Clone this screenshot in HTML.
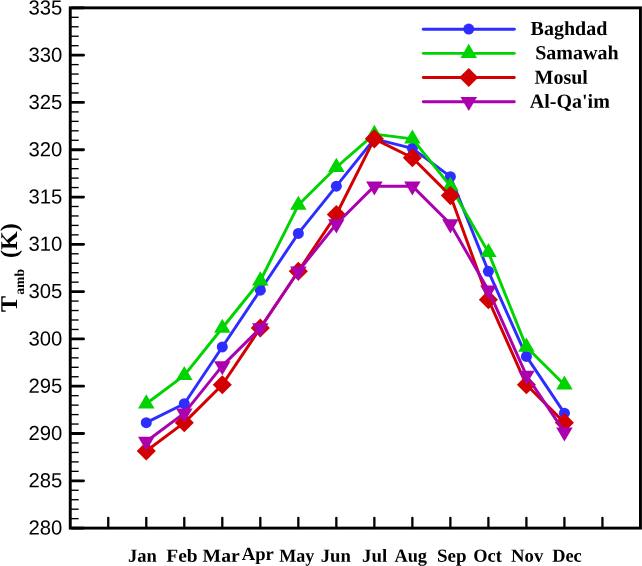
<!DOCTYPE html>
<html><head><meta charset="utf-8"><title>Chart</title>
<style>html,body{margin:0;padding:0;background:#fff;}body{width:642px;height:566px;overflow:hidden;font-family:"Liberation Sans",sans-serif;}svg{display:block;will-change:transform;}text{text-rendering:geometricPrecision;}</style>
</head><body>
<svg width="642" height="566" viewBox="0 0 642 566">
<rect width="642" height="566" fill="#fff"/>
<polyline points="146.28,422.63 184.29,403.71 222.30,346.96 260.32,290.20 298.33,233.45 336.34,186.15 374.36,138.86 412.37,148.32 450.38,176.69 488.40,271.29 526.41,356.42 564.42,413.17" fill="none" stroke="#2d2dff" stroke-width="2.95" stroke-linejoin="round"/>
<circle cx="146.28" cy="422.63" r="5.5" fill="#2d2dff"/>
<circle cx="184.29" cy="403.71" r="5.5" fill="#2d2dff"/>
<circle cx="222.30" cy="346.96" r="5.5" fill="#2d2dff"/>
<circle cx="260.32" cy="290.20" r="5.5" fill="#2d2dff"/>
<circle cx="298.33" cy="233.45" r="5.5" fill="#2d2dff"/>
<circle cx="336.34" cy="186.15" r="5.5" fill="#2d2dff"/>
<circle cx="374.36" cy="138.86" r="5.5" fill="#2d2dff"/>
<circle cx="412.37" cy="148.32" r="5.5" fill="#2d2dff"/>
<circle cx="450.38" cy="176.69" r="5.5" fill="#2d2dff"/>
<circle cx="488.40" cy="271.29" r="5.5" fill="#2d2dff"/>
<circle cx="526.41" cy="356.42" r="5.5" fill="#2d2dff"/>
<circle cx="564.42" cy="413.17" r="5.5" fill="#2d2dff"/>
<polyline points="146.28,403.71 184.29,375.34 222.30,328.04 260.32,280.74 298.33,205.07 336.34,167.24 374.36,134.13 412.37,138.86 450.38,186.15 488.40,252.37 526.41,346.96 564.42,384.79" fill="none" stroke="#00d400" stroke-width="2.95" stroke-linejoin="round"/>
<path d="M146.28 394.31L154.53 408.41L138.03 408.41Z" fill="#00d400"/>
<path d="M184.29 365.94L192.54 380.04L176.04 380.04Z" fill="#00d400"/>
<path d="M222.30 318.64L230.55 332.74L214.05 332.74Z" fill="#00d400"/>
<path d="M260.32 271.34L268.57 285.44L252.07 285.44Z" fill="#00d400"/>
<path d="M298.33 195.67L306.58 209.77L290.08 209.77Z" fill="#00d400"/>
<path d="M336.34 157.84L344.59 171.94L328.09 171.94Z" fill="#00d400"/>
<path d="M374.36 124.73L382.61 138.83L366.11 138.83Z" fill="#00d400"/>
<path d="M412.37 129.46L420.62 143.56L404.12 143.56Z" fill="#00d400"/>
<path d="M450.38 176.75L458.63 190.85L442.13 190.85Z" fill="#00d400"/>
<path d="M488.40 242.97L496.65 257.07L480.15 257.07Z" fill="#00d400"/>
<path d="M526.41 337.56L534.66 351.66L518.16 351.66Z" fill="#00d400"/>
<path d="M564.42 375.39L572.67 389.49L556.17 389.49Z" fill="#00d400"/>
<polyline points="146.28,451.01 184.29,422.63 222.30,384.79 260.32,328.04 298.33,271.29 336.34,214.53 374.36,138.86 412.37,157.78 450.38,195.61 488.40,299.66 526.41,384.79 564.42,422.63" fill="none" stroke="#d20000" stroke-width="2.95" stroke-linejoin="round"/>
<path d="M146.28 441.46L155.83 451.01L146.28 460.56L136.73 451.01Z" fill="#d20000"/>
<path d="M184.29 413.08L193.84 422.63L184.29 432.18L174.74 422.63Z" fill="#d20000"/>
<path d="M222.30 375.24L231.85 384.79L222.30 394.34L212.75 384.79Z" fill="#d20000"/>
<path d="M260.32 318.49L269.87 328.04L260.32 337.59L250.77 328.04Z" fill="#d20000"/>
<path d="M298.33 261.74L307.88 271.29L298.33 280.84L288.78 271.29Z" fill="#d20000"/>
<path d="M336.34 204.98L345.89 214.53L336.34 224.08L326.79 214.53Z" fill="#d20000"/>
<path d="M374.36 129.31L383.91 138.86L374.36 148.41L364.81 138.86Z" fill="#d20000"/>
<path d="M412.37 148.23L421.92 157.78L412.37 167.33L402.82 157.78Z" fill="#d20000"/>
<path d="M450.38 186.06L459.93 195.61L450.38 205.16L440.83 195.61Z" fill="#d20000"/>
<path d="M488.40 290.11L497.95 299.66L488.40 309.21L478.85 299.66Z" fill="#d20000"/>
<path d="M526.41 375.24L535.96 384.79L526.41 394.34L516.86 384.79Z" fill="#d20000"/>
<path d="M564.42 413.08L573.97 422.63L564.42 432.18L554.87 422.63Z" fill="#d20000"/>
<polyline points="146.28,441.55 184.29,413.17 222.30,365.88 260.32,328.04 298.33,271.29 336.34,223.99 374.36,186.15 412.37,186.15 450.38,223.99 488.40,290.20 526.41,375.34 564.42,432.09" fill="none" stroke="#aa00ae" stroke-width="2.95" stroke-linejoin="round"/>
<path d="M146.28 450.95L154.53 436.85L138.03 436.85Z" fill="#aa00ae"/>
<path d="M184.29 422.57L192.54 408.47L176.04 408.47Z" fill="#aa00ae"/>
<path d="M222.30 375.28L230.55 361.18L214.05 361.18Z" fill="#aa00ae"/>
<path d="M260.32 337.44L268.57 323.34L252.07 323.34Z" fill="#aa00ae"/>
<path d="M298.33 280.69L306.58 266.59L290.08 266.59Z" fill="#aa00ae"/>
<path d="M336.34 233.39L344.59 219.29L328.09 219.29Z" fill="#aa00ae"/>
<path d="M374.36 195.55L382.61 181.45L366.11 181.45Z" fill="#aa00ae"/>
<path d="M412.37 195.55L420.62 181.45L404.12 181.45Z" fill="#aa00ae"/>
<path d="M450.38 233.39L458.63 219.29L442.13 219.29Z" fill="#aa00ae"/>
<path d="M488.40 299.60L496.65 285.50L480.15 285.50Z" fill="#aa00ae"/>
<path d="M526.41 384.74L534.66 370.64L518.16 370.64Z" fill="#aa00ae"/>
<path d="M564.42 441.49L572.67 427.39L556.17 427.39Z" fill="#aa00ae"/>
<rect x="70.25" y="7.85" width="570.20" height="520.25" fill="none" stroke="#000" stroke-width="2.9"/>
<line x1="71.75" y1="528.10" x2="83.55" y2="528.10" stroke="#000" stroke-width="2.8" stroke-linecap="round"/>
<text transform="translate(62.4,534.60) rotate(0.05)" text-anchor="end" font-family="Liberation Sans, sans-serif" font-size="20.3">280</text>
<line x1="70.25" y1="518.64" x2="78.65" y2="518.64" stroke="#000" stroke-width="1.35"/>
<line x1="70.25" y1="509.18" x2="78.65" y2="509.18" stroke="#000" stroke-width="1.35"/>
<line x1="70.25" y1="499.72" x2="78.65" y2="499.72" stroke="#000" stroke-width="1.35"/>
<line x1="70.25" y1="490.26" x2="78.65" y2="490.26" stroke="#000" stroke-width="1.35"/>
<line x1="71.75" y1="480.80" x2="83.55" y2="480.80" stroke="#000" stroke-width="2.8" stroke-linecap="round"/>
<text transform="translate(62.4,487.30) rotate(0.05)" text-anchor="end" font-family="Liberation Sans, sans-serif" font-size="20.3">285</text>
<line x1="70.25" y1="471.35" x2="78.65" y2="471.35" stroke="#000" stroke-width="1.35"/>
<line x1="70.25" y1="461.89" x2="78.65" y2="461.89" stroke="#000" stroke-width="1.35"/>
<line x1="70.25" y1="452.43" x2="78.65" y2="452.43" stroke="#000" stroke-width="1.35"/>
<line x1="70.25" y1="442.97" x2="78.65" y2="442.97" stroke="#000" stroke-width="1.35"/>
<line x1="71.75" y1="433.51" x2="83.55" y2="433.51" stroke="#000" stroke-width="2.8" stroke-linecap="round"/>
<text transform="translate(62.4,440.01) rotate(0.05)" text-anchor="end" font-family="Liberation Sans, sans-serif" font-size="20.3">290</text>
<line x1="70.25" y1="424.05" x2="78.65" y2="424.05" stroke="#000" stroke-width="1.35"/>
<line x1="70.25" y1="414.59" x2="78.65" y2="414.59" stroke="#000" stroke-width="1.35"/>
<line x1="70.25" y1="405.13" x2="78.65" y2="405.13" stroke="#000" stroke-width="1.35"/>
<line x1="70.25" y1="395.67" x2="78.65" y2="395.67" stroke="#000" stroke-width="1.35"/>
<line x1="71.75" y1="386.21" x2="83.55" y2="386.21" stroke="#000" stroke-width="2.8" stroke-linecap="round"/>
<text transform="translate(62.4,392.71) rotate(0.05)" text-anchor="end" font-family="Liberation Sans, sans-serif" font-size="20.3">295</text>
<line x1="70.25" y1="376.75" x2="78.65" y2="376.75" stroke="#000" stroke-width="1.35"/>
<line x1="70.25" y1="367.30" x2="78.65" y2="367.30" stroke="#000" stroke-width="1.35"/>
<line x1="70.25" y1="357.84" x2="78.65" y2="357.84" stroke="#000" stroke-width="1.35"/>
<line x1="70.25" y1="348.38" x2="78.65" y2="348.38" stroke="#000" stroke-width="1.35"/>
<line x1="71.75" y1="338.92" x2="83.55" y2="338.92" stroke="#000" stroke-width="2.8" stroke-linecap="round"/>
<text transform="translate(62.4,345.42) rotate(0.05)" text-anchor="end" font-family="Liberation Sans, sans-serif" font-size="20.3">300</text>
<line x1="70.25" y1="329.46" x2="78.65" y2="329.46" stroke="#000" stroke-width="1.35"/>
<line x1="70.25" y1="320.00" x2="78.65" y2="320.00" stroke="#000" stroke-width="1.35"/>
<line x1="70.25" y1="310.54" x2="78.65" y2="310.54" stroke="#000" stroke-width="1.35"/>
<line x1="70.25" y1="301.08" x2="78.65" y2="301.08" stroke="#000" stroke-width="1.35"/>
<line x1="71.75" y1="291.62" x2="83.55" y2="291.62" stroke="#000" stroke-width="2.8" stroke-linecap="round"/>
<text transform="translate(62.4,298.12) rotate(0.05)" text-anchor="end" font-family="Liberation Sans, sans-serif" font-size="20.3">305</text>
<line x1="70.25" y1="282.16" x2="78.65" y2="282.16" stroke="#000" stroke-width="1.35"/>
<line x1="70.25" y1="272.70" x2="78.65" y2="272.70" stroke="#000" stroke-width="1.35"/>
<line x1="70.25" y1="263.25" x2="78.65" y2="263.25" stroke="#000" stroke-width="1.35"/>
<line x1="70.25" y1="253.79" x2="78.65" y2="253.79" stroke="#000" stroke-width="1.35"/>
<line x1="71.75" y1="244.33" x2="83.55" y2="244.33" stroke="#000" stroke-width="2.8" stroke-linecap="round"/>
<text transform="translate(62.4,250.83) rotate(0.05)" text-anchor="end" font-family="Liberation Sans, sans-serif" font-size="20.3">310</text>
<line x1="70.25" y1="234.87" x2="78.65" y2="234.87" stroke="#000" stroke-width="1.35"/>
<line x1="70.25" y1="225.41" x2="78.65" y2="225.41" stroke="#000" stroke-width="1.35"/>
<line x1="70.25" y1="215.95" x2="78.65" y2="215.95" stroke="#000" stroke-width="1.35"/>
<line x1="70.25" y1="206.49" x2="78.65" y2="206.49" stroke="#000" stroke-width="1.35"/>
<line x1="71.75" y1="197.03" x2="83.55" y2="197.03" stroke="#000" stroke-width="2.8" stroke-linecap="round"/>
<text transform="translate(62.4,203.53) rotate(0.05)" text-anchor="end" font-family="Liberation Sans, sans-serif" font-size="20.3">315</text>
<line x1="70.25" y1="187.57" x2="78.65" y2="187.57" stroke="#000" stroke-width="1.35"/>
<line x1="70.25" y1="178.11" x2="78.65" y2="178.11" stroke="#000" stroke-width="1.35"/>
<line x1="70.25" y1="168.65" x2="78.65" y2="168.65" stroke="#000" stroke-width="1.35"/>
<line x1="70.25" y1="159.20" x2="78.65" y2="159.20" stroke="#000" stroke-width="1.35"/>
<line x1="71.75" y1="149.74" x2="83.55" y2="149.74" stroke="#000" stroke-width="2.8" stroke-linecap="round"/>
<text transform="translate(62.4,156.30) rotate(0.05)" text-anchor="end" font-family="Liberation Sans, sans-serif" font-size="20.3">320</text>
<line x1="70.25" y1="140.28" x2="78.65" y2="140.28" stroke="#000" stroke-width="1.35"/>
<line x1="70.25" y1="130.82" x2="78.65" y2="130.82" stroke="#000" stroke-width="1.35"/>
<line x1="70.25" y1="121.36" x2="78.65" y2="121.36" stroke="#000" stroke-width="1.35"/>
<line x1="70.25" y1="111.90" x2="78.65" y2="111.90" stroke="#000" stroke-width="1.35"/>
<line x1="71.75" y1="102.44" x2="83.55" y2="102.44" stroke="#000" stroke-width="2.8" stroke-linecap="round"/>
<text transform="translate(62.4,109.07) rotate(0.05)" text-anchor="end" font-family="Liberation Sans, sans-serif" font-size="20.3">325</text>
<line x1="70.25" y1="92.98" x2="78.65" y2="92.98" stroke="#000" stroke-width="1.35"/>
<line x1="70.25" y1="83.52" x2="78.65" y2="83.52" stroke="#000" stroke-width="1.35"/>
<line x1="70.25" y1="74.06" x2="78.65" y2="74.06" stroke="#000" stroke-width="1.35"/>
<line x1="70.25" y1="64.60" x2="78.65" y2="64.60" stroke="#000" stroke-width="1.35"/>
<line x1="71.75" y1="55.15" x2="83.55" y2="55.15" stroke="#000" stroke-width="2.8" stroke-linecap="round"/>
<text transform="translate(62.4,61.83) rotate(0.05)" text-anchor="end" font-family="Liberation Sans, sans-serif" font-size="20.3">330</text>
<line x1="70.25" y1="45.69" x2="78.65" y2="45.69" stroke="#000" stroke-width="1.35"/>
<line x1="70.25" y1="36.23" x2="78.65" y2="36.23" stroke="#000" stroke-width="1.35"/>
<line x1="70.25" y1="26.77" x2="78.65" y2="26.77" stroke="#000" stroke-width="1.35"/>
<line x1="70.25" y1="17.31" x2="78.65" y2="17.31" stroke="#000" stroke-width="1.35"/>
<line x1="71.75" y1="7.85" x2="83.55" y2="7.85" stroke="#000" stroke-width="2.8" stroke-linecap="round"/>
<text transform="translate(62.4,14.60) rotate(0.05)" text-anchor="end" font-family="Liberation Sans, sans-serif" font-size="20.3">335</text>
<line x1="108.26" y1="528.1" x2="108.26" y2="517.80" stroke="#000" stroke-width="2.3" stroke-linecap="round"/>
<line x1="146.28" y1="528.1" x2="146.28" y2="517.80" stroke="#000" stroke-width="2.3" stroke-linecap="round"/>
<line x1="184.29" y1="528.1" x2="184.29" y2="517.80" stroke="#000" stroke-width="2.3" stroke-linecap="round"/>
<line x1="222.30" y1="528.1" x2="222.30" y2="517.80" stroke="#000" stroke-width="2.3" stroke-linecap="round"/>
<line x1="260.32" y1="528.1" x2="260.32" y2="517.80" stroke="#000" stroke-width="2.3" stroke-linecap="round"/>
<line x1="298.33" y1="528.1" x2="298.33" y2="517.80" stroke="#000" stroke-width="2.3" stroke-linecap="round"/>
<line x1="336.34" y1="528.1" x2="336.34" y2="517.80" stroke="#000" stroke-width="2.3" stroke-linecap="round"/>
<line x1="374.36" y1="528.1" x2="374.36" y2="517.80" stroke="#000" stroke-width="2.3" stroke-linecap="round"/>
<line x1="412.37" y1="528.1" x2="412.37" y2="517.80" stroke="#000" stroke-width="2.3" stroke-linecap="round"/>
<line x1="450.38" y1="528.1" x2="450.38" y2="517.80" stroke="#000" stroke-width="2.3" stroke-linecap="round"/>
<line x1="488.40" y1="528.1" x2="488.40" y2="517.80" stroke="#000" stroke-width="2.3" stroke-linecap="round"/>
<line x1="526.41" y1="528.1" x2="526.41" y2="517.80" stroke="#000" stroke-width="2.3" stroke-linecap="round"/>
<line x1="564.42" y1="528.1" x2="564.42" y2="517.80" stroke="#000" stroke-width="2.3" stroke-linecap="round"/>
<line x1="602.44" y1="528.1" x2="602.44" y2="517.80" stroke="#000" stroke-width="2.3" stroke-linecap="round"/>
<text transform="translate(142.43,561.80) rotate(0.05) scale(1.0027,1)" x="0" y="0" text-anchor="middle" font-family="Liberation Serif, serif" font-weight="bold" font-size="18.5">Jan</text>
<text transform="translate(181.95,561.80) rotate(0.05) scale(1.0504,1)" x="0" y="0" text-anchor="middle" font-family="Liberation Serif, serif" font-weight="bold" font-size="18.5">Feb</text>
<text transform="translate(221.15,561.80) rotate(0.05) scale(1.0622,1)" x="0" y="0" text-anchor="middle" font-family="Liberation Serif, serif" font-weight="bold" font-size="18.5">Mar</text>
<text transform="translate(257.77,559.90) rotate(0.05) scale(1.0056,1)" x="0" y="0" text-anchor="middle" font-family="Liberation Serif, serif" font-weight="bold" font-size="18.5">Apr</text>
<text transform="translate(296.78,561.80) rotate(0.05) scale(0.9758,1)" x="0" y="0" text-anchor="middle" font-family="Liberation Serif, serif" font-weight="bold" font-size="18.5">May</text>
<text transform="translate(335.77,561.80) rotate(0.05) scale(1.0124,1)" x="0" y="0" text-anchor="middle" font-family="Liberation Serif, serif" font-weight="bold" font-size="18.5">Jun</text>
<text transform="translate(374.62,561.80) rotate(0.05) scale(1.0168,1)" x="0" y="0" text-anchor="middle" font-family="Liberation Serif, serif" font-weight="bold" font-size="18.5">Jul</text>
<text transform="translate(410.72,561.80) rotate(0.05) scale(0.9898,1)" x="0" y="0" text-anchor="middle" font-family="Liberation Serif, serif" font-weight="bold" font-size="18.5">Aug</text>
<text transform="translate(451.74,561.80) rotate(0.05) scale(1.0249,1)" x="0" y="0" text-anchor="middle" font-family="Liberation Serif, serif" font-weight="bold" font-size="18.5">Sep</text>
<text transform="translate(487.50,561.80) rotate(0.05) scale(0.9938,1)" x="0" y="0" text-anchor="middle" font-family="Liberation Serif, serif" font-weight="bold" font-size="18.5">Oct</text>
<text transform="translate(527.20,561.80) rotate(0.05) scale(1.0101,1)" x="0" y="0" text-anchor="middle" font-family="Liberation Serif, serif" font-weight="bold" font-size="18.5">Nov</text>
<text transform="translate(566.90,561.80) rotate(0.05) scale(0.9919,1)" x="0" y="0" text-anchor="middle" font-family="Liberation Serif, serif" font-weight="bold" font-size="18.5">Dec</text>
<line x1="423.3" y1="29.15" x2="514.3" y2="29.15" stroke="#2d2dff" stroke-width="2.95" stroke-linecap="round"/>
<circle cx="468.75" cy="29.05" r="5.5" fill="#2d2dff"/>
<text transform="translate(530.55,35.00) rotate(0.05)" font-family="Liberation Serif, serif" font-weight="bold" font-size="20">Baghdad</text>
<line x1="423.3" y1="53.35" x2="514.3" y2="53.35" stroke="#00d400" stroke-width="2.95" stroke-linecap="round"/>
<path d="M468.75 43.85L477.00 57.95L460.50 57.95Z" fill="#00d400"/>
<text transform="translate(535.15,59.20) rotate(0.05)" font-family="Liberation Serif, serif" font-weight="bold" font-size="20">Samawah</text>
<line x1="423.3" y1="77.55" x2="514.3" y2="77.55" stroke="#d20000" stroke-width="2.95" stroke-linecap="round"/>
<path d="M468.75 67.90L478.30 77.45L468.75 87.00L459.20 77.45Z" fill="#d20000"/>
<text transform="translate(534.55,83.75) rotate(0.05)" font-family="Liberation Serif, serif" font-weight="bold" font-size="20">Mosul</text>
<line x1="423.3" y1="101.75" x2="514.3" y2="101.75" stroke="#aa00ae" stroke-width="2.95" stroke-linecap="round"/>
<path d="M468.75 111.05L477.00 96.95L460.50 96.95Z" fill="#aa00ae"/>
<text transform="translate(529.85,107.75) rotate(0.05)" font-family="Liberation Serif, serif" font-weight="bold" font-size="20">Al-Qa'im</text>
<g transform="translate(16.75,312) rotate(-90)" font-family="Liberation Serif, serif" font-weight="bold"><text x="0" y="0" font-size="24">T</text><text x="17.2" y="7.35" font-size="13.7">amb</text><text x="54.0" y="0" font-size="24">(K)</text></g>
</svg>
</body></html>
